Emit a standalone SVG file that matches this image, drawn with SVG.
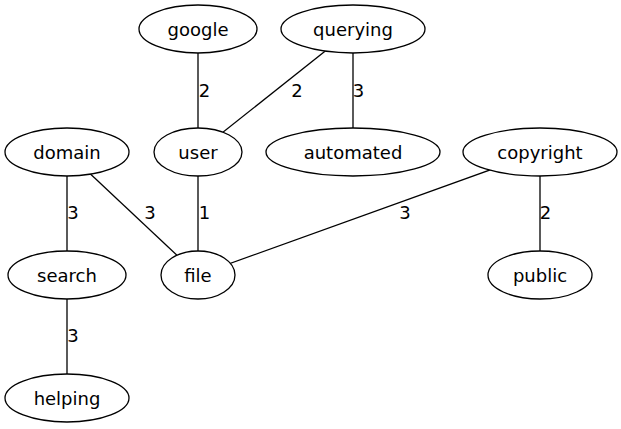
<svg xmlns="http://www.w3.org/2000/svg" width="621" height="429" viewBox="0 0 621 429">
<style>
.n ellipse{fill:#fff;stroke:#000;stroke-width:1.3}
.n text,.lbl{font-family:"DejaVu Sans",sans-serif;font-size:18px;fill:#000}
.n text{text-anchor:middle}
.lbl{text-anchor:middle}
#edges line{stroke:#000;stroke-width:1.3}
</style>
<rect width="621" height="429" fill="#fff"/>
<g id="edges">
<line x1="198" y1="29" x2="198" y2="152"/>
<line x1="353" y1="29" x2="198" y2="152"/>
<line x1="353" y1="29" x2="353" y2="152"/>
<line x1="67" y1="152" x2="67" y2="275"/>
<line x1="67" y1="152" x2="198" y2="275"/>
<line x1="198" y1="152" x2="198" y2="275"/>
<line x1="540" y1="152" x2="198" y2="275"/>
<line x1="540" y1="152" x2="540" y2="275"/>
<line x1="67" y1="275" x2="67" y2="398"/>
<text class="lbl" x="204.5" y="97">2</text>
<text class="lbl" x="297" y="97">2</text>
<text class="lbl" x="358.5" y="97">3</text>
<text class="lbl" x="73" y="219">3</text>
<text class="lbl" x="150" y="219">3</text>
<text class="lbl" x="204.5" y="219">1</text>
<text class="lbl" x="405" y="219">3</text>
<text class="lbl" x="545.5" y="219">2</text>
<text class="lbl" x="73" y="342">3</text>
</g>
<g id="google" class="n"><ellipse cx="198" cy="29" rx="59" ry="24"/><text x="198" y="35.5">google</text></g>
<g id="querying" class="n"><ellipse cx="353" cy="29" rx="72" ry="24"/><text x="353" y="35.5">querying</text></g>
<g id="domain" class="n"><ellipse cx="67" cy="152" rx="62" ry="24"/><text x="67" y="158.5">domain</text></g>
<g id="user" class="n"><ellipse cx="198" cy="152" rx="44" ry="24"/><text x="198" y="158.5">user</text></g>
<g id="automated" class="n"><ellipse cx="353" cy="152" rx="87" ry="24"/><text x="353" y="158.5">automated</text></g>
<g id="copyright" class="n"><ellipse cx="540" cy="152" rx="77" ry="24"/><text x="540" y="158.5">copyright</text></g>
<g id="search" class="n"><ellipse cx="67" cy="275" rx="59" ry="24"/><text x="67" y="281.5">search</text></g>
<g id="file" class="n"><ellipse cx="198" cy="275" rx="37" ry="24"/><text x="198" y="281.5">file</text></g>
<g id="public" class="n"><ellipse cx="540" cy="275" rx="52" ry="24"/><text x="540" y="281.5">public</text></g>
<g id="helping" class="n"><ellipse cx="67" cy="398" rx="62" ry="24"/><text x="67" y="404.5">helping</text></g>
</svg>
